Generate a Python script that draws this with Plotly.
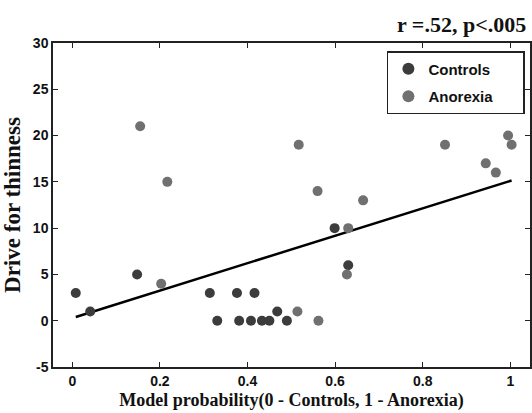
import plotly.graph_objects as go

controls_x = [0.008, 0.041, 0.148, 0.314, 0.331, 0.376, 0.381, 0.408, 0.416, 0.433, 0.450, 0.468, 0.490, 0.599, 0.630]
controls_y = [3, 1, 5, 3, 0, 3, 0, 0, 3, 0, 0, 1, 0, 10, 6]
anorexia_x = [0.155, 0.203, 0.217, 0.514, 0.517, 0.560, 0.562, 0.627, 0.630, 0.664, 0.851, 0.944, 0.967, 0.995, 1.003]
anorexia_y = [21, 4, 15, 1, 19, 14, 0, 5, 10, 13, 19, 17, 16, 20, 19]
fit_x = [0.008, 1.003]
fit_y = [0.4, 15.15]
x_ticks = [0, 0.2, 0.4, 0.6, 0.8, 1]
x_tick_labels = ["0", "0.2", "0.4", "0.6", "0.8", "1"]
y_ticks = [-5, 0, 5, 10, 15, 20, 25, 30]
y_tick_labels = ["-5", "0", "5", "10", "15", "20", "25", "30"]

pad = "&nbsp;" * 6

fig = go.Figure()
fig.add_trace(go.Scatter(x=fit_x, y=fit_y, mode="lines", line=dict(color="black", width=2.5),
                         showlegend=False, hoverinfo="skip"))
fig.add_trace(go.Scatter(x=controls_x, y=controls_y, mode="markers", name="<b>Controls</b>" + pad,
                         legendgroup="c", marker=dict(color="#3c3c3c", size=10)))
fig.add_trace(go.Scatter(x=anorexia_x, y=anorexia_y, mode="markers", name="<b>Anorexia</b>" + pad,
                         legendgroup="a", marker=dict(color="#707070", size=10)))

axis_common = dict(showline=True, linecolor="#222", linewidth=1.5, mirror="ticks",
                   ticks="inside", ticklen=5, tickcolor="#222", showgrid=False, zeroline=False,
                   tickfont=dict(family="Liberation Sans, Arial", size=14, color="#111"))

fig.update_layout(
    width=532, height=413,
    margin=dict(l=53, r=0, t=43, b=46),
    plot_bgcolor="white", paper_bgcolor="white",
    xaxis=dict(range=[-0.044, 1.045], tickvals=x_ticks,
               ticktext=["<b>%s</b>" % t for t in x_tick_labels], **axis_common,
               title=dict(text="<b>Model probability(0 - Controls, 1 - Anorexia)</b>", standoff=6,
                          font=dict(family="Liberation Serif, Times New Roman", size=18, color="#111"))),
    yaxis=dict(range=[-5, 30], tickvals=y_ticks,
               ticktext=["<b>%s</b>" % t for t in y_tick_labels], **axis_common,
               title=dict(text="<b>Drive for thinness</b>", standoff=6,
                          font=dict(family="Liberation Serif, Times New Roman", size=23, color="#111"))),
    legend=dict(x=0.70, y=0.975, xanchor="left", yanchor="top",
                bordercolor="#222", borderwidth=1.5, bgcolor="white",
                font=dict(family="Liberation Sans, Arial", size=15, color="#111"),
                itemsizing="constant", traceorder="grouped", tracegroupgap=5),
    annotations=[dict(text="<b>r =.52, p<.005</b>", xref="paper", yref="paper", x=0.995, y=1.0,
                      xanchor="right", yanchor="bottom", yshift=4, showarrow=False,
                      font=dict(family="Liberation Serif, Times New Roman", size=22, color="#111"))],
)
fig.write_html("out.html")
